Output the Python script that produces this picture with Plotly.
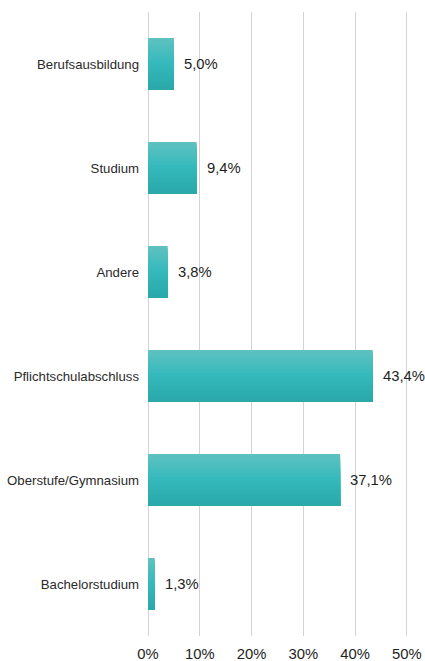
import plotly.graph_objects as go

categories = ["Berufsausbildung", "Studium", "Andere", "Pflichtschulabschluss",
              "Oberstufe/Gymnasium", "Bachelorstudium"]
values = [5.0, 9.4, 3.8, 43.4, 37.1, 1.3]
tick_vals = [0, 10, 20, 30, 40, 50]
tick_text = ["0%", "10%", "20%", "30%", "40%", "50%"]

def lerp(c1, c2, t):
    return "rgb(%d,%d,%d)" % tuple(round(a + (b - a) * t) for a, b in zip(c1, c2))

top_c = (94, 193, 193)
mid_c = (52, 185, 187)
bot_c = (42, 168, 170)

fig = go.Figure()
n = 24
bar_w = 0.5
strip = bar_w / n
for k in range(n):
    t = k / (n - 1)
    if t < 0.5:
        col = lerp(top_c, mid_c, t / 0.5)
    else:
        col = lerp(mid_c, bot_c, (t - 0.5) / 0.5)
    fig.add_trace(go.Bar(
        x=values, y=categories, orientation="h",
        width=bar_w - k * strip, offset=-bar_w / 2 + k * strip,
        marker=dict(color=col, line=dict(width=0)),
        hoverinfo="skip", showlegend=False,
    ))

for c, v in zip(categories, values):
    fig.add_annotation(
        x=v, y=c, text=("%.1f%%" % v).replace(".", ","),
        xanchor="left", yanchor="middle", xshift=8, showarrow=False,
        font=dict(size=14.8, color="#1e1e1e"),
    )

fig.update_layout(
    width=425, height=661,
    margin=dict(l=148, r=16, t=12, b=25, autoexpand=False),
    barmode="overlay",
    plot_bgcolor="white", paper_bgcolor="white",
    font=dict(family="Liberation Sans, Arial, sans-serif", color="#333333"),
    xaxis=dict(
        range=[0, 50.4], tickvals=tick_vals, ticktext=tick_text,
        showgrid=True, gridcolor="#d3d3d3", gridwidth=1,
        zeroline=True, zerolinecolor="#d3d3d3", zerolinewidth=1,
        showline=False, ticks="", ticklabelstandoff=7, automargin=False,
        tickfont=dict(size=14.8, color="#1e1e1e"),
    ),
    yaxis=dict(
        categoryorder="array", categoryarray=categories,
        autorange="reversed", showgrid=False, zeroline=False,
        showline=False, ticks="", ticklabelstandoff=8, automargin=False,
        tickfont=dict(size=13.2, color="#2a2a2a"),
    ),
)

fig.write_html("out.html")
